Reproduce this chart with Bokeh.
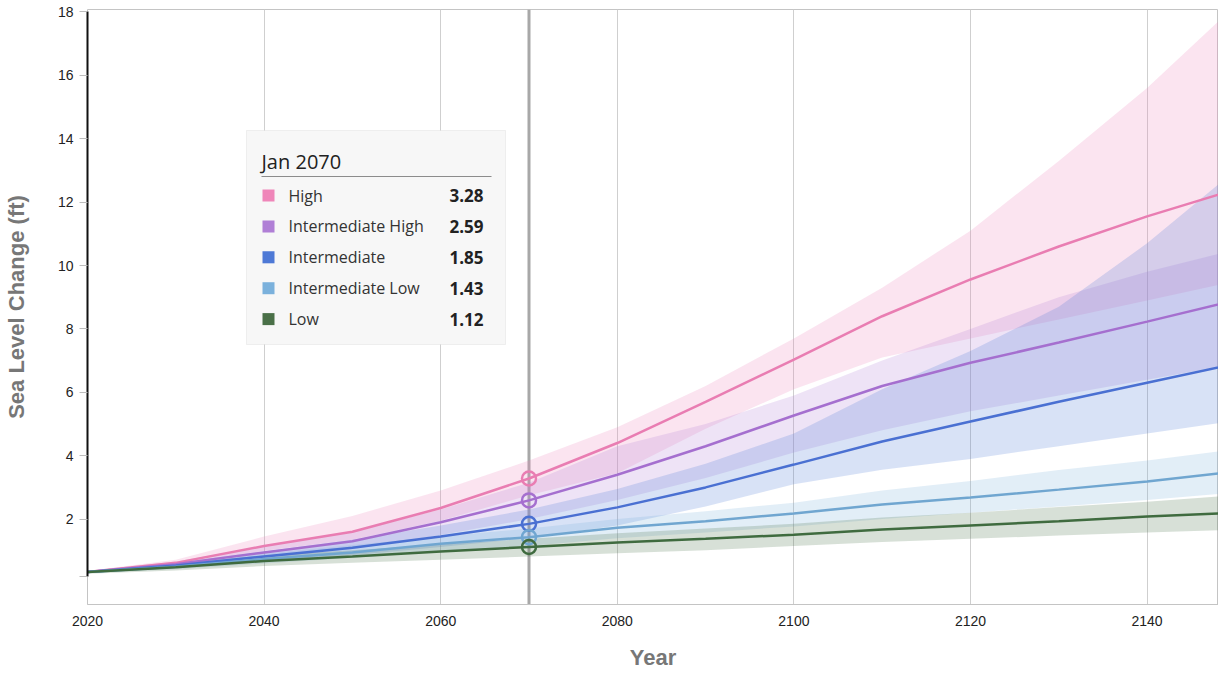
from bokeh.plotting import figure
from bokeh.models import BoxAnnotation, Label, Span, FixedTicker, Range1d, CustomJSTickFormatter
from bokeh.embed import file_html
from bokeh.resources import INLINE

# ---------------- data ----------------
years = [2020, 2030, 2040, 2050, 2060, 2070, 2080, 2090, 2100, 2110, 2120, 2130, 2140, 2150]

high    = [0.33, 0.62, 1.15, 1.60, 2.35, 3.28, 4.40, 5.70, 7.03, 8.40, 9.56, 10.60, 11.55, 12.40]
high_lo = [0.30, 0.55, 1.00, 1.35, 1.95, 2.75, 3.45, 4.85, 6.10, 7.10, 7.70, 8.30, 8.90, 9.50]
high_hi = [0.36, 0.72, 1.45, 2.10, 2.90, 3.85, 4.90, 6.20, 7.70, 9.30, 11.10, 13.30, 15.60, 18.20]

ih      = [0.33, 0.58, 0.95, 1.30, 1.90, 2.59, 3.40, 4.30, 5.27, 6.20, 6.93, 7.57, 8.23, 8.90]
ih_lo   = [0.30, 0.50, 0.78, 1.05, 1.50, 2.00, 2.60, 3.30, 4.10, 4.80, 5.40, 5.90, 6.40, 6.90]
ih_hi   = [0.36, 0.66, 1.15, 1.60, 2.30, 3.15, 4.30, 5.00, 5.90, 7.00, 8.00, 9.00, 9.80, 10.50]

inter    = [0.33, 0.54, 0.82, 1.10, 1.45, 1.85, 2.37, 3.00, 3.72, 4.45, 5.08, 5.70, 6.30, 6.90]
inter_lo = [0.30, 0.46, 0.66, 0.86, 1.12, 1.40, 1.80, 2.40, 3.10, 3.56, 3.90, 4.30, 4.70, 5.10]
inter_hi = [0.36, 0.62, 0.98, 1.35, 1.80, 2.30, 2.95, 3.75, 4.70, 6.10, 7.30, 8.70, 10.70, 13.00]

il      = [0.33, 0.50, 0.74, 0.95, 1.22, 1.43, 1.73, 1.93, 2.18, 2.46, 2.68, 2.93, 3.19, 3.50]
il_lo   = [0.30, 0.42, 0.60, 0.78, 0.98, 1.15, 1.40, 1.58, 1.77, 2.00, 2.20, 2.40, 2.60, 2.84]
il_hi   = [0.36, 0.58, 0.90, 1.18, 1.45, 1.70, 2.00, 2.25, 2.52, 2.90, 3.20, 3.55, 3.85, 4.20]

low     = [0.33, 0.48, 0.68, 0.82, 0.98, 1.12, 1.26, 1.38, 1.51, 1.67, 1.80, 1.93, 2.08, 2.20]
low_lo  = [0.28, 0.38, 0.52, 0.62, 0.72, 0.82, 0.92, 1.02, 1.15, 1.28, 1.38, 1.48, 1.58, 1.67]
low_hi  = [0.38, 0.60, 0.85, 1.02, 1.20, 1.38, 1.55, 1.70, 1.85, 2.05, 2.20, 2.38, 2.55, 2.75]

names = ["High", "Intermediate High", "Intermediate", "Intermediate Low", "Low"]
lines = [high, ih, inter, il, low]
lows = [high_lo, ih_lo, inter_lo, il_lo, low_lo]
highs = [high_hi, ih_hi, inter_hi, il_hi, low_hi]
line_colors = ["#e97db2", "#a56fcf", "#4a70d2", "#70a6d0", "#3f6b3f"]
band_colors = ["#ef86b9", "#b07fd6", "#4e79d6", "#7bb1dc", "#4a7048"]
swatch_colors = ["#ef86b9", "#b07fd6", "#4e79d6", "#7bb1dc", "#4a7048"]
hover_year = 2070
hover_label = "Jan 2070"
x_ticks = [2020, 2040, 2060, 2080, 2100, 2120, 2140]
y_ticks = [0.2, 2, 4, 6, 8, 10, 12, 14, 16, 18]

# ---------------- layout ----------------
FRAME_W, FRAME_H = 1131, 595
PX_PER_YEAR = 8.83
PX_PER_FT = 31.7
x0, x1 = 2020, 2020 + FRAME_W / PX_PER_YEAR
y1 = 18.076
y0 = y1 - FRAME_H / PX_PER_FT

p = figure(
    frame_width=FRAME_W, frame_height=FRAME_H,
    min_border_left=83, min_border_right=0, min_border_top=9, min_border_bottom=61,
    x_range=Range1d(x0, x1), y_range=Range1d(y0, y1),
    output_backend="svg", toolbar_location=None,
)
p.outline_line_color = "#c4c4c4"
p.background_fill_color = "white"
p.border_fill_color = "white"

# grids
p.ygrid.visible = False
p.xgrid.ticker = FixedTicker(ticks=x_ticks)
p.xgrid.grid_line_color = "#cfcfcf"
p.xgrid.grid_line_width = 1

# axes
AX_FONT = "Liberation Sans, Arial, sans-serif"
xa = p.xaxis[0]
xa.ticker = FixedTicker(ticks=x_ticks)
xa.axis_line_color = "#c4c4c4"
xa.major_tick_out = 0
xa.major_tick_in = 0
xa.minor_tick_line_color = None
xa.major_label_standoff = 11
xa.major_label_text_font = AX_FONT
xa.major_label_text_font_size = "14px"
xa.major_label_text_color = "#222222"
xa.axis_label = "Year"
xa.axis_label_text_font = AX_FONT
xa.axis_label_text_font_size = "22px"
xa.axis_label_text_font_style = "bold"
xa.axis_label_text_color = "#777777"
xa.axis_label_standoff = 16

ya = p.yaxis[0]
ya.ticker = FixedTicker(ticks=y_ticks)
ya.formatter = CustomJSTickFormatter(code="return tick < 1 ? '' : tick.toFixed(0);")
ya.bounds = (0.2, 18)
ya.axis_line_color = "#111111"
ya.axis_line_width = 2
ya.major_tick_out = 8
ya.major_tick_in = 0
ya.major_tick_line_color = "#bdbdbd"
ya.minor_tick_line_color = None
ya.major_label_standoff = 6
ya.major_label_text_font = AX_FONT
ya.major_label_text_font_size = "14px"
ya.major_label_text_color = "#222222"
ya.axis_label = "Sea Level Change (ft)"
ya.axis_label_text_font = AX_FONT
ya.axis_label_text_font_size = "22px"
ya.axis_label_text_font_style = "bold"
ya.axis_label_text_color = "#777777"
ya.axis_label_standoff = 26

# crosshair
p.add_layout(Span(location=hover_year, dimension="height", line_color="#a8a8a8",
                  line_width=3, level="underlay"))

# bands
for lo, hi, c in zip(lows, highs, band_colors):
    p.varea(x=years, y1=lo, y2=hi, fill_color=c, fill_alpha=0.22)

# lines
for ln, c in zip(lines, line_colors):
    p.line(x=years, y=ln, line_color=c, line_width=2.5)

# hover markers
idx = years.index(hover_year)
for ln, c in zip(lines, line_colors):
    p.scatter(x=[hover_year], y=[ln[idx]], size=14, fill_color=None,
              line_color=c, line_width=2.5)

# ---------------- tooltip box ----------------
FRAME_LEFT_PX, ZERO_PX = 88, 583


def dx(px):
    return x0 + (px - FRAME_LEFT_PX) / PX_PER_YEAR


def dy(py):
    return (ZERO_PX - py) / PX_PER_FT


TT_FONT = "Open Sans"
p.add_layout(BoxAnnotation(left=dx(247), right=dx(506), top=dy(131), bottom=dy(345),
                           fill_color="#f7f7f7", fill_alpha=1.0,
                           line_color="#d2d2d2", line_width=1, level="overlay"))
p.add_layout(Label(x=dx(262), y=dy(162), text=hover_label, text_font=TT_FONT,
                   text_font_size="20px", text_color="#222222",
                   text_baseline="middle", text_align="left", level="overlay"))
p.add_layout(BoxAnnotation(left=dx(262), right=dx(492), top=dy(176.5), bottom=dy(177.5),
                           fill_color="#8c8c8c", fill_alpha=1.0, line_color=None,
                           level="overlay"))
for i, (nm, ln, sc) in enumerate(zip(names, lines, swatch_colors)):
    ry = 196 + 30.9 * i
    p.add_layout(BoxAnnotation(left=dx(263), right=dx(275), top=dy(ry - 6), bottom=dy(ry + 6),
                               fill_color=sc, fill_alpha=1.0, line_color=None,
                               level="overlay"))
    p.add_layout(Label(x=dx(289), y=dy(ry), text=nm, text_font=TT_FONT,
                       text_font_size="16px", text_color="#333333",
                       text_baseline="middle", text_align="left", level="overlay"))
    p.add_layout(Label(x=dx(484), y=dy(ry), text=f"{ln[idx]:.2f}", text_font=TT_FONT,
                       text_font_size="17px", text_font_style="bold", text_color="#222222",
                       text_baseline="middle", text_align="right", level="overlay"))

open("out.html", "w").write(file_html(p, INLINE))
